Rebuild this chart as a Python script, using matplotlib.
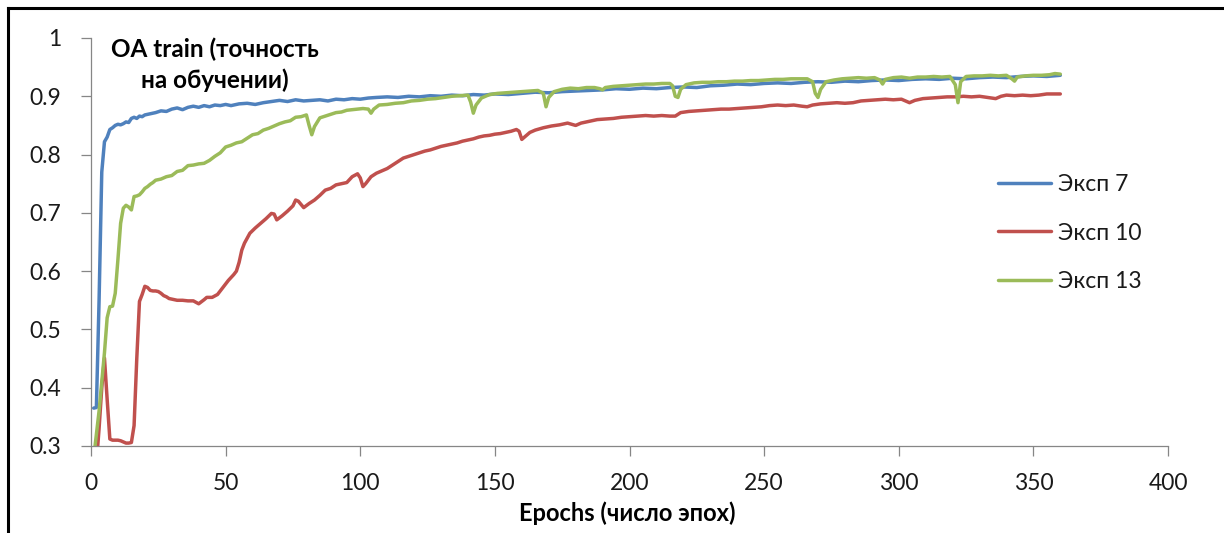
import matplotlib
matplotlib.use("Agg")
import matplotlib.pyplot as plt
from matplotlib.lines import Line2D

plt.rcParams['font.family'] = ['Lato', 'DejaVu Sans']

# --- data -----------------------------------------------------------------
exp7_epochs = [1, 2, 3, 4, 5, 6, 7, 8, 9, 10, 11, 12, 13, 14, 15, 16, 17, 18, 19, 20,
               22, 24, 26, 28, 30, 32, 34, 36, 38, 40, 42, 44, 46, 48, 50, 52, 55, 58,
               61, 64, 67, 70, 73, 76, 79, 82, 85, 88, 91, 94, 97, 100, 103, 106, 110,
               114, 118, 122, 126, 130, 134, 138, 142, 146, 150, 155, 160, 165, 170,
               175, 180, 185, 190, 195, 200, 205, 210, 215, 220, 225, 230, 235, 240,
               245, 250, 255, 260, 265, 270, 275, 280, 285, 290, 295, 300, 305, 310,
               315, 320, 325, 330, 335, 340, 345, 350, 355, 360]
exp7_oa = [0.365, 0.366, 0.550, 0.770, 0.822, 0.830, 0.843, 0.846, 0.850, 0.852, 0.851,
           0.853, 0.856, 0.855, 0.862, 0.864, 0.862, 0.866, 0.865, 0.868, 0.870, 0.872,
           0.875, 0.874, 0.878, 0.880, 0.877, 0.881, 0.883, 0.881, 0.884, 0.882, 0.885,
           0.884, 0.886, 0.884, 0.887, 0.888, 0.886, 0.889, 0.891, 0.893, 0.891, 0.894,
           0.892, 0.893, 0.894, 0.892, 0.895, 0.894, 0.896, 0.895, 0.897, 0.898, 0.899,
           0.898, 0.900, 0.899, 0.901, 0.900, 0.902, 0.901, 0.903, 0.902, 0.904, 0.903,
           0.905, 0.907, 0.906, 0.908, 0.909, 0.910, 0.911, 0.913, 0.912, 0.914, 0.913,
           0.915, 0.916, 0.915, 0.918, 0.919, 0.921, 0.920, 0.922, 0.923, 0.922, 0.924,
           0.925, 0.924, 0.926, 0.925, 0.927, 0.928, 0.927, 0.929, 0.930, 0.929, 0.931,
           0.930, 0.932, 0.933, 0.932, 0.934, 0.935, 0.934, 0.936]

exp10_epochs = [1, 2, 3, 4, 5, 6, 7, 8, 9, 10, 11, 12, 13, 14, 15, 16, 17, 18, 19, 20,
                21, 22, 23, 24, 25, 26, 27, 28, 29, 30, 32, 34, 36, 38, 40, 42, 43, 45,
                47, 49, 51, 53, 54, 55, 56, 57, 59, 61, 63, 65, 67, 68, 69, 71, 73, 75,
                76, 77, 79, 81, 83, 85, 87, 89, 91, 93, 95, 97, 99, 100, 101, 102, 104,
                106, 108, 110, 112, 114, 116, 118, 120, 122, 124, 126, 128, 130, 132,
                134, 136, 138, 140, 142, 144, 146, 148, 150, 152, 154, 156, 158, 159,
                160, 161, 163, 165, 168, 171, 174, 177, 180, 182, 185, 188, 191, 194,
                197, 200, 203, 206, 209, 212, 215, 217, 219, 222, 225, 228, 231, 234,
                237, 240, 243, 246, 249, 252, 255, 258, 261, 264, 266, 268, 271, 274,
                277, 280, 283, 286, 289, 292, 295, 298, 301, 303, 304, 306, 309, 312,
                315, 318, 321, 324, 327, 330, 333, 336, 338, 340, 343, 346, 349, 352,
                355, 358, 360]
exp10_oa = [0.220, 0.270, 0.330, 0.400, 0.451, 0.380, 0.312, 0.310, 0.310, 0.310, 0.309,
            0.307, 0.305, 0.305, 0.306, 0.335, 0.450, 0.548, 0.560, 0.574, 0.572, 0.567,
            0.566, 0.566, 0.565, 0.562, 0.558, 0.556, 0.553, 0.552, 0.550, 0.550, 0.549,
            0.549, 0.544, 0.551, 0.555, 0.555, 0.560, 0.572, 0.584, 0.594, 0.600, 0.615,
            0.636, 0.648, 0.665, 0.674, 0.682, 0.690, 0.699, 0.698, 0.688, 0.695, 0.703,
            0.712, 0.722, 0.720, 0.709, 0.716, 0.722, 0.730, 0.739, 0.742, 0.748, 0.750,
            0.752, 0.762, 0.767, 0.760, 0.745, 0.750, 0.762, 0.768, 0.772, 0.776, 0.782,
            0.788, 0.794, 0.797, 0.800, 0.803, 0.806, 0.808, 0.811, 0.814, 0.816, 0.818,
            0.820, 0.823, 0.825, 0.827, 0.830, 0.832, 0.833, 0.835, 0.836, 0.838, 0.840,
            0.843, 0.840, 0.826, 0.830, 0.838, 0.842, 0.846, 0.849, 0.851, 0.854, 0.850,
            0.854, 0.857, 0.860, 0.861, 0.862, 0.864, 0.865, 0.866, 0.867, 0.866, 0.867,
            0.866, 0.866, 0.872, 0.874, 0.875, 0.876, 0.877, 0.878, 0.878, 0.879, 0.880,
            0.881, 0.882, 0.884, 0.885, 0.884, 0.885, 0.883, 0.882, 0.885, 0.887, 0.888,
            0.889, 0.888, 0.889, 0.892, 0.893, 0.894, 0.895, 0.894, 0.895, 0.891, 0.889,
            0.893, 0.896, 0.897, 0.898, 0.899, 0.899, 0.900, 0.899, 0.900, 0.898, 0.896,
            0.900, 0.902, 0.901, 0.902, 0.901, 0.902, 0.904, 0.904, 0.904]

exp13_epochs = [1, 2, 3, 4, 5, 6, 7, 8, 9, 10, 11, 12, 13, 14, 15, 16, 17, 18, 19, 20,
                21, 22, 23, 24, 26, 28, 30, 32, 34, 36, 38, 40, 42, 44, 46, 48, 50, 52,
                54, 56, 58, 60, 62, 64, 66, 68, 70, 72, 74, 76, 78, 80, 81, 82, 83, 85,
                87, 89, 91, 93, 95, 97, 99, 101, 103, 104, 105, 107, 110, 113, 116, 119,
                122, 125, 128, 131, 134, 137, 140, 141, 142, 143, 145, 148, 151, 154,
                157, 160, 163, 166, 168, 169, 170, 172, 175, 178, 181, 184, 187, 189,
                190, 191, 194, 197, 200, 203, 206, 209, 212, 215, 216, 217, 218, 219,
                221, 224, 227, 230, 233, 236, 239, 242, 245, 248, 251, 254, 257, 260,
                263, 266, 268, 269, 270, 271, 273, 276, 279, 282, 285, 288, 291, 293,
                294, 295, 298, 301, 304, 307, 310, 313, 316, 319, 321, 322, 323, 325,
                328, 331, 334, 337, 340, 342, 343, 344, 347, 350, 353, 356, 358, 360]
exp13_oa = [0.280, 0.320, 0.360, 0.410, 0.460, 0.520, 0.539, 0.540, 0.562, 0.620, 0.682,
            0.708, 0.713, 0.710, 0.705, 0.728, 0.729, 0.731, 0.736, 0.742, 0.745, 0.749,
            0.752, 0.756, 0.758, 0.762, 0.764, 0.771, 0.773, 0.781, 0.782, 0.784, 0.785,
            0.790, 0.797, 0.803, 0.813, 0.816, 0.820, 0.822, 0.828, 0.834, 0.836, 0.842,
            0.845, 0.849, 0.853, 0.856, 0.858, 0.864, 0.865, 0.868, 0.850, 0.834, 0.848,
            0.863, 0.866, 0.869, 0.872, 0.873, 0.876, 0.877, 0.878, 0.879, 0.878, 0.871,
            0.878, 0.885, 0.886, 0.888, 0.889, 0.892, 0.893, 0.895, 0.896, 0.898, 0.900,
            0.901, 0.902, 0.890, 0.871, 0.885, 0.897, 0.903, 0.905, 0.906, 0.907, 0.908,
            0.909, 0.910, 0.905, 0.882, 0.898, 0.908, 0.912, 0.914, 0.913, 0.915, 0.915,
            0.913, 0.911, 0.915, 0.917, 0.918, 0.919, 0.920, 0.921, 0.921, 0.922, 0.922,
            0.918, 0.900, 0.898, 0.912, 0.920, 0.923, 0.924, 0.924, 0.925, 0.925, 0.926,
            0.926, 0.927, 0.927, 0.928, 0.929, 0.929, 0.930, 0.930, 0.930, 0.925, 0.905,
            0.898, 0.912, 0.925, 0.928, 0.930, 0.931, 0.932, 0.931, 0.932, 0.928, 0.921,
            0.929, 0.932, 0.933, 0.931, 0.933, 0.933, 0.934, 0.933, 0.934, 0.920, 0.889,
            0.925, 0.934, 0.935, 0.935, 0.936, 0.935, 0.936, 0.930, 0.926, 0.933, 0.935,
            0.936, 0.936, 0.937, 0.939, 0.938]

series_labels = ["Эксп 7", "Эксп 10", "Эксп 13"]
series_colors = ["#4F81BD", "#C0504D", "#9BBB59"]

x_ticks = [0, 50, 100, 150, 200, 250, 300, 350, 400]
y_ticks = [0.3, 0.4, 0.5, 0.6, 0.7, 0.8, 0.9, 1.0]
y_tick_labels = ["0.3", "0.4", "0.5", "0.6", "0.7", "0.8", "0.9", "1"]

title_text = "OA train (точность\nна обучении)"
x_label = "Epochs (число эпох)"

# --- figure ---------------------------------------------------------------
W, H = 1224, 533
fig = plt.figure(figsize=(W / 100, H / 100), dpi=100)
fig.patch.set_facecolor("white")

ax = fig.add_axes([91 / W, 1 - 446 / H, (1168 - 91) / W, (446 - 38) / H])

for xs, ys, lab, col in zip([exp7_epochs, exp10_epochs, exp13_epochs],
                            [exp7_oa, exp10_oa, exp13_oa],
                            series_labels, series_colors):
    ax.plot(xs, ys, color=col, lw=2.5, label=lab, solid_joinstyle="round",
            solid_capstyle="round")

ax.set_xlim(0, 400)
ax.set_ylim(0.3, 1.0)
ax.set_xticks(x_ticks)
ax.set_yticks(y_ticks)
ax.set_yticklabels(y_tick_labels)

axis_gray = "#868686"
for side in ("top", "right"):
    ax.spines[side].set_visible(False)
for side in ("left", "bottom"):
    ax.spines[side].set_color(axis_gray)
    ax.spines[side].set_linewidth(0.9)

tick_size = 16.5
ax.tick_params(axis="both", colors=axis_gray, direction="out", length=7,
               width=0.9, labelsize=tick_size, labelcolor="#1a1a1a")
ax.tick_params(axis="y", pad=14.5)
ax.tick_params(axis="x", pad=12.5)

ax.text(0.115, 0.934, title_text, transform=ax.transAxes, ha="center",
        va="center", fontsize=17.5, fontweight="bold", linespacing=1.38,
        color="black")

fig.text(627 / W, 1 - 513 / H, x_label, ha="center", va="center",
         fontsize=17, fontweight="bold", color="black")

ax.legend(loc="center left", bbox_to_anchor=(998 / W, 1 - 233 / H),
          bbox_transform=fig.transFigure, frameon=False, fontsize=tick_size,
          handlelength=2.3, handletextpad=0.3, labelspacing=1.2,
          borderpad=0, borderaxespad=0, labelcolor="#1a1a1a")

# outer frame: left and top edges
fig.add_artist(Line2D([8 / W, 8 / W], [0, 1 - 8 / H], transform=fig.transFigure,
                      color="black", lw=2.2, solid_capstyle="projecting"))
fig.add_artist(Line2D([8 / W, 1], [1 - 8 / H, 1 - 8 / H], transform=fig.transFigure,
                      color="black", lw=2.2, solid_capstyle="projecting"))

fig.savefig("out.png", dpi=100, facecolor="white")
